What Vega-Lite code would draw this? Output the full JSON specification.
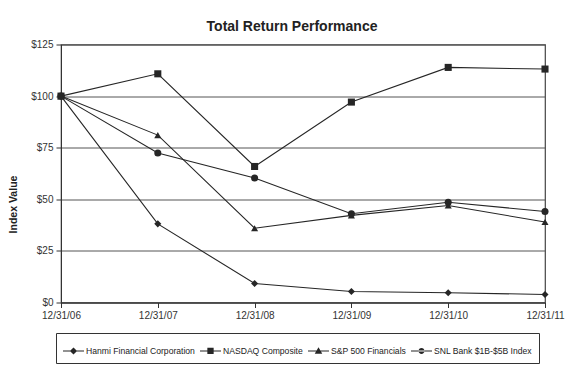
{
  "$schema": "https://vega.github.io/schema/vega-lite/v6.json",
  "width": 484,
  "height": 258,
  "autosize": {"type": "none"},
  "padding": {"left": 61, "top": 44.5, "right": 32, "bottom": 74.5},
  "background": "white",
  "title": {
    "text": "Total Return Performance",
    "font": "Liberation Sans",
    "fontSize": 14,
    "fontWeight": "bold",
    "color": "#222",
    "anchor": "middle",
    "frame": "group",
    "dx": -11,
    "offset": 6
  },
  "config": {
    "font": "Liberation Sans",
    "view": {"stroke": "#444", "strokeWidth": 1.2}
  },
  "data": {
    "values": [
      {"date": "12/31/06", "series": "Hanmi Financial Corporation", "value": 100},
      {"date": "12/31/07", "series": "Hanmi Financial Corporation", "value": 38.1},
      {"date": "12/31/08", "series": "Hanmi Financial Corporation", "value": 9.2},
      {"date": "12/31/09", "series": "Hanmi Financial Corporation", "value": 5.3},
      {"date": "12/31/10", "series": "Hanmi Financial Corporation", "value": 4.7},
      {"date": "12/31/11", "series": "Hanmi Financial Corporation", "value": 3.9},
      {"date": "12/31/06", "series": "NASDAQ Composite", "value": 100},
      {"date": "12/31/07", "series": "NASDAQ Composite", "value": 110.8},
      {"date": "12/31/08", "series": "NASDAQ Composite", "value": 65.9},
      {"date": "12/31/09", "series": "NASDAQ Composite", "value": 97.1},
      {"date": "12/31/10", "series": "NASDAQ Composite", "value": 113.9},
      {"date": "12/31/11", "series": "NASDAQ Composite", "value": 113.1},
      {"date": "12/31/06", "series": "S&P 500 Financials", "value": 100},
      {"date": "12/31/07", "series": "S&P 500 Financials", "value": 81.1},
      {"date": "12/31/08", "series": "S&P 500 Financials", "value": 36.0},
      {"date": "12/31/09", "series": "S&P 500 Financials", "value": 42.2},
      {"date": "12/31/10", "series": "S&P 500 Financials", "value": 47.0},
      {"date": "12/31/11", "series": "S&P 500 Financials", "value": 39.0},
      {"date": "12/31/06", "series": "SNL Bank $1B-$5B Index", "value": 100},
      {"date": "12/31/07", "series": "SNL Bank $1B-$5B Index", "value": 72.4},
      {"date": "12/31/08", "series": "SNL Bank $1B-$5B Index", "value": 60.3},
      {"date": "12/31/09", "series": "SNL Bank $1B-$5B Index", "value": 43.0},
      {"date": "12/31/10", "series": "SNL Bank $1B-$5B Index", "value": 48.6},
      {"date": "12/31/11", "series": "SNL Bank $1B-$5B Index", "value": 44.1}
    ]
  },
  "encoding": {
    "x": {
      "field": "date",
      "type": "ordinal",
      "scale": {"type": "point", "padding": 0},
      "axis": {
        "title": null,
        "labelAngle": 0,
        "labelFontSize": 10,
        "labelColor": "#333",
        "labelPadding": 3,
        "tickSize": 5,
        "tickColor": "#333",
        "domainColor": "#333",
        "grid": false
      }
    },
    "y": {
      "field": "value",
      "type": "quantitative",
      "scale": {"domain": [0, 125], "nice": false},
      "axis": {
        "values": [0, 25, 50, 75, 100, 125],
        "labelExpr": "'$' + datum.value",
        "labelFontSize": 10,
        "labelColor": "#333",
        "labelPadding": 3,
        "tickSize": 5,
        "tickColor": "#333",
        "domainColor": "#333",
        "gridColor": "#555",
        "gridOpacity": 1,
        "gridWidth": 1,
        "title": "Index Value",
        "titleFontSize": 10.5,
        "titleFontWeight": "bold",
        "titleColor": "#222",
        "titleBaseline": "middle",
        "titleX": -47.7,
        "titleY": 159.5
      }
    }
  },
  "layer": [
    {
      "mark": {"type": "line", "color": "#262626", "strokeWidth": 1.1},
      "encoding": {"detail": {"field": "series"}}
    },
    {
      "mark": {"type": "point", "filled": true, "color": "#262626", "opacity": 1, "size": 50},
      "encoding": {
        "shape": {
          "field": "series",
          "type": "nominal",
          "scale": {"domain": ["Hanmi Financial Corporation", "NASDAQ Composite", "S&P 500 Financials", "SNL Bank $1B-$5B Index"], "range": ["diamond", "square", "triangle-up", "circle"]},
          "legend": null
        }
      }
    },
    {
      "mark": {"type": "point", "filled": true, "color": "#262626", "opacity": 0},
      "encoding": {
        "shape": {
          "field": "series",
          "type": "nominal",
          "scale": {"domain": ["Hanmi Financial Corporation", "NASDAQ Composite", "S&P 500 Financials", "SNL Bank $1B-$5B Index"], "range": [
            "M-1,-0.05L1,-0.05L1,0.05L-1,0.05Z M-0.34,0L0,-0.34L0.34,0L0,0.34Z",
            "M-1,-0.05L1,-0.05L1,0.05L-1,0.05Z M-0.3,-0.3L0.3,-0.3L0.3,0.3L-0.3,0.3Z",
            "M-1,-0.05L1,-0.05L1,0.05L-1,0.05Z M0,-0.36L0.36,0.26L-0.36,0.26Z",
            "M-1,-0.05L1,-0.05L1,0.05L-1,0.05Z M-0.28,0A0.28,0.28 0 1,0 0.28,0A0.28,0.28 0 1,0 -0.28,0Z"
          ]},
          "legend": {
            "title": null,
            "orient": "none",
            "legendX": -5,
            "legendY": 288.5,
            "direction": "horizontal",
            "columns": 4,
            "strokeColor": "#333",
            "fillColor": "white",
            "padding": 7,
            "columnPadding": 5,
            "labelOffset": 2,
            "labelFontSize": 8.6,
            "labelColor": "#222",
            "labelLimit": 300,
            "symbolSize": 441,
            "symbolOpacity": 1,
            "symbolFillColor": "#262626",
            "symbolStrokeColor": "#262626",
            "symbolStrokeWidth": 0
          }
        }
      }
    }
  ],
  "resolve": {"scale": {"shape": "independent"}, "legend": {"shape": "independent"}}
}
